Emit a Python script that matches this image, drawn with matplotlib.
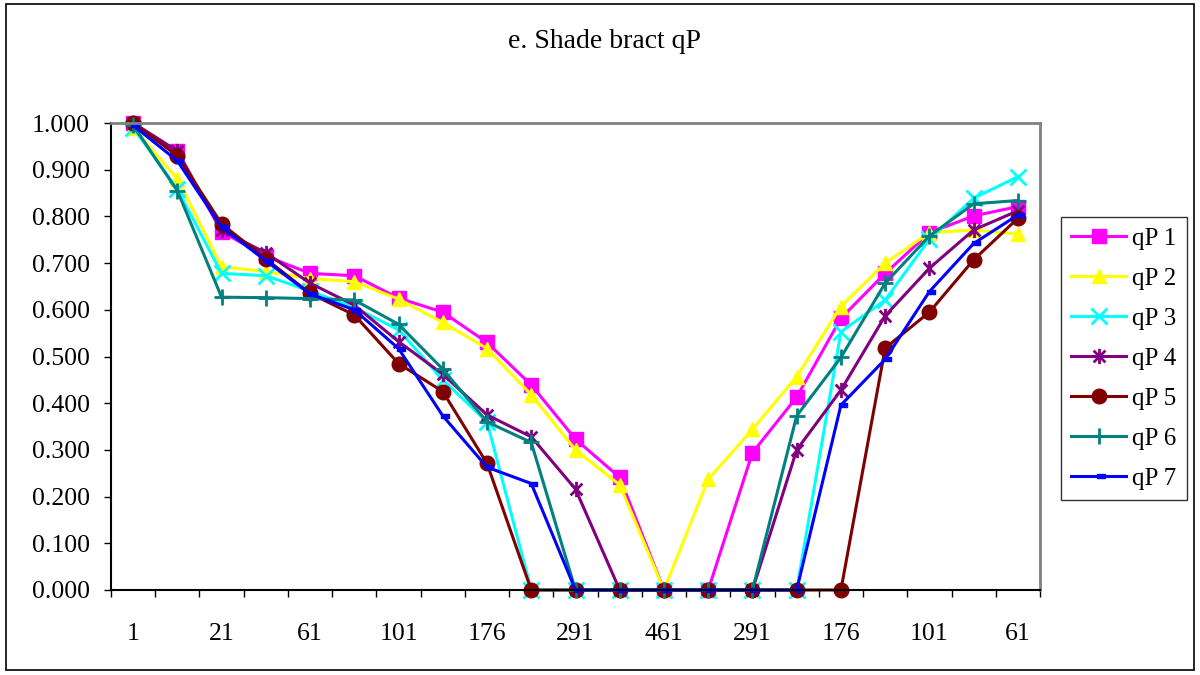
import numpy as np
import matplotlib
matplotlib.use("Agg")
import matplotlib.pyplot as plt
from matplotlib.path import Path
from matplotlib.patches import Rectangle

plt.rcParams["font.family"] = ["Liberation Serif", "DejaVu Serif"]

# x categories (only every second one is labelled on the axis)
x_labels = ["1", "21", "61", "101", "176", "291", "461", "291", "176", "101", "61"]
n_points = 21

qP1 = [1.000, 0.939, 0.767, 0.715, 0.678, 0.673, 0.625, 0.595, 0.530, 0.439, 0.323,
       0.241, 0.000, 0.000, 0.294, 0.413, 0.582, 0.678, 0.765, 0.801, 0.821]
qP2 = [0.990, 0.881, 0.692, 0.682, 0.667, 0.660, 0.623, 0.573, 0.517, 0.418, 0.300,
       0.225, 0.000, 0.237, 0.344, 0.457, 0.607, 0.700, 0.765, 0.771, 0.762]
qP3 = [0.990, 0.858, 0.678, 0.673, 0.640, 0.605, 0.557, 0.450, 0.360, 0.000, 0.000,
       0.000, 0.000, 0.000, 0.000, 0.000, 0.553, 0.621, 0.751, 0.839, 0.885]
qP4 = [1.000, 0.940, 0.770, 0.722, 0.657, 0.610, 0.532, 0.462, 0.375, 0.328, 0.216,
       0.000, 0.000, 0.000, 0.000, 0.300, 0.428, 0.587, 0.689, 0.771, 0.812]
qP5 = [1.000, 0.930, 0.784, 0.709, 0.635, 0.589, 0.485, 0.425, 0.271, 0.000, 0.000,
       0.000, 0.000, 0.000, 0.000, 0.000, 0.000, 0.518, 0.595, 0.707, 0.796]
qP6 = [0.995, 0.855, 0.627, 0.626, 0.624, 0.621, 0.569, 0.473, 0.360, 0.316, 0.000,
       0.000, 0.000, 0.000, 0.000, 0.373, 0.498, 0.657, 0.758, 0.827, 0.834]
qP7 = [0.995, 0.919, 0.777, 0.705, 0.634, 0.600, 0.517, 0.373, 0.263, 0.228, 0.000,
       0.000, 0.000, 0.000, 0.000, 0.000, 0.396, 0.494, 0.639, 0.742, 0.803]

series = [qP1, qP2, qP3, qP4, qP5, qP6, qP7]
names = ["qP 1", "qP 2", "qP 3", "qP 4", "qP 5", "qP 6", "qP 7"]
colors = ["#FF00FF", "#FFFF00", "#00FFFF", "#800080", "#800000", "#008080", "#0000FF"]

# excel-ish markers
star = Path([(-1, -1), (1, 1), (-1, 1), (1, -1), (0, -1.3), (0, 1.3)],
            [Path.MOVETO, Path.LINETO, Path.MOVETO, Path.LINETO, Path.MOVETO, Path.LINETO])
dash = Path([(-0.3, -0.35), (1.0, -0.35), (1.0, 0.35), (-0.3, 0.35), (-0.3, -0.35)],
            [Path.MOVETO, Path.LINETO, Path.LINETO, Path.LINETO, Path.CLOSEPOLY])
markers = ["s", "^", "x", star, "o", "+", dash]
msizes = [10.5, 10.5, 11, 11, 10.5, 12, 9]
mews = [1, 1, 2, 2, 1, 2, 1]

fig = plt.figure(figsize=(12, 6.75), dpi=100)
ax = fig.add_axes([111 / 1200, 1 - 590 / 675, 929 / 1200, 467 / 675])

x = np.arange(n_points)
for vals, name, c, m, ms, mew in zip(series, names, colors, markers, msizes, mews):
    ax.plot(x, vals, color=c, lw=2.2, marker=m, markersize=ms,
            markerfacecolor=c, markeredgecolor=c, markeredgewidth=mew,
            label=name, clip_on=False)

ax.set_xlim(-0.5, n_points - 0.5)
ax.set_ylim(0, 1)
ax.set_yticks(np.arange(0, 1.01, 0.1))
ax.set_yticklabels([f"{v:.3f}" for v in np.arange(0, 1.01, 0.1)])
ax.tick_params(axis="y", direction="out", length=5, width=1, pad=10,
               labelsize=18.5, color="black")

ax.set_xticks(np.arange(0, n_points, 2))
ax.set_xticklabels(x_labels)
ax.set_xticks(np.arange(-0.5, n_points, 1), minor=True)
ax.tick_params(axis="x", which="major", length=0, pad=24, labelsize=18.5)
ax.tick_params(axis="x", which="minor", direction="out", length=5, width=1)

for s in ["top", "right"]:
    ax.spines[s].set_color("#808080")
    ax.spines[s].set_linewidth(2)
for s in ["left", "bottom"]:
    ax.spines[s].set_color("black")
    ax.spines[s].set_linewidth(1.5)

fig.text(604 / 1200, 1 - 42 / 675, "e. Shade bract qP", ha="center", va="center",
         fontsize=20)

leg = fig.legend(loc="upper left", bbox_to_anchor=(1061 / 1200, 1 - 217 / 675),
                 bbox_transform=fig.transFigure, fontsize=18, frameon=True,
                 fancybox=False, edgecolor="black", handlelength=2.2,
                 handletextpad=0.25, labelspacing=0.7, borderpad=0.4,
                 borderaxespad=0)
leg.get_frame().set_linewidth(1)

fig.patches.append(Rectangle((6 / 1200, 5 / 675), 1188 / 1200, 666 / 675,
                             transform=fig.transFigure, fill=False,
                             edgecolor="black", lw=1.2))

fig.savefig("out.png", dpi=100)
